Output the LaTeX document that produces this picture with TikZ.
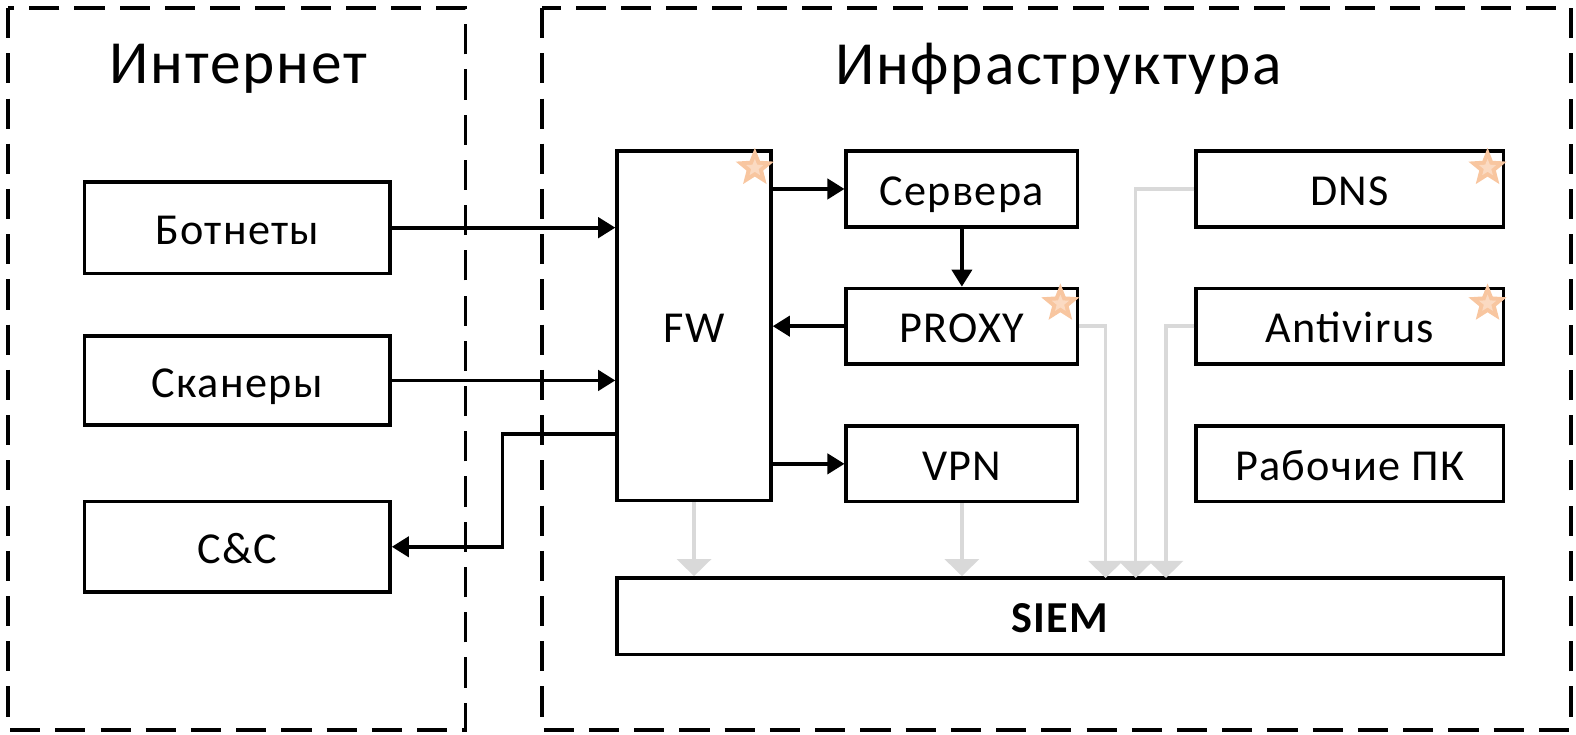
\documentclass[tikz,border=0pt]{standalone}
\usepackage{fontspec}
\setmainfont{Carlito}[LetterSpace=3]
\usetikzlibrary{arrows.meta,shapes.geometric}
\definecolor{lgray}{HTML}{D9D9D9}
\definecolor{peach}{HTML}{F8C6A0}
\definecolor{peachl}{HTML}{FBDAC2}
\begin{document}
\begin{tikzpicture}[x=1pt,y=-1pt,
  box/.style={draw, line width=3.6pt, inner sep=0pt, text height=33pt, text depth=0pt, font=\fontsize{44}{52}\selectfont},
  zone/.style={draw, line width=3.6pt, dash pattern=on 30pt off 15pt},
  title/.style={font=\fontsize{61}{70}\selectfont},
  arr/.style={line width=3.8pt, -{Triangle[length=17pt,width=20pt]}},
  garr/.style={line width=3.4pt, lgray, -{Triangle[length=17pt,width=34pt]}},
  starout/.style={star, star points=5, star point ratio=2.3, fill=peach, minimum size=40pt, inner sep=0pt},
  starin/.style={star, star points=5, star point ratio=2.3, fill=peachl, minimum size=18pt, inner sep=0pt}]
\useasboundingbox (0,0) rectangle (1568,731);
\draw[zone] (8,8) rectangle (463,726);
\draw[zone] (539,8) rectangle (1563,726);
\node[title] (tint) at (237,68) {Интернет};
\node[title] (tinf) at (1053,68) {Инфраструктура};

\node[box, minimum width=304pt, minimum height=91pt] (bot) at (236,226.5) {Ботнеты};
\node[box, minimum width=304pt, minimum height=89pt] (scan) at (236,378.5) {Сканеры};
\node[box, minimum width=304pt, minimum height=90pt] (cc) at (236,544) {C\&C};
\node[box, minimum width=153pt, minimum height=348pt] (fw) at (690.5,324) {FW};
\node[box, minimum width=230pt, minimum height=76pt] (serv) at (957,188) {Сервера};
\node[box, minimum width=230pt, minimum height=75pt] (proxy) at (957,324.5) {PROXY};
\node[box, minimum width=230pt, minimum height=75pt] (vpn) at (957,461.5) {VPN};
\node[box, minimum width=306pt, minimum height=76pt] (dns) at (1343,188) {DNS};
\node[box, minimum width=306pt, minimum height=75pt] (av) at (1343,324.5) {Antivirus};
\node[box, minimum width=306pt, minimum height=75pt] (pc) at (1343,461.5) {Рабочие ПК};
\node[box, minimum width=882pt, minimum height=76pt] (siem) at (1055,613) {\textbf{SIEM}};

\coordinate (fwout) at (614,432);
\draw[arr] (bot.east) -- (bot.east -| fw.west);
\draw[arr] (scan.east) -- (scan.east -| fw.west);
\draw[arr] (fwout) -- (500,432) |- (cc.east);
\draw[arr] (fw.east |- serv.west) -- (serv.west);
\draw[arr] (serv.south) -- (proxy.north);
\draw[arr] (proxy.west) -- (proxy.west -| fw.east);
\draw[arr] (fw.east |- vpn.west) -- (vpn.west);

\draw[garr] (fw.south) -- (fw.south |- siem.north);
\draw[garr] (vpn.south) -- (vpn.south |- siem.north);
\draw[garr] (proxy.east) -- (1100,324.5) -- (1100,575);
\draw[garr] (dns.west) -- (1130,188) -- (1130,575);
\draw[garr] (av.west) -- (1160,324.5) -- (1160,575);

\foreach \n/\p in {s1/{(751,167)}, s2/{(1055,302)}, s3/{(1480,167)}, s4/{(1480,302)}} {
  \node[starout] (\n) at \p {};
  \node[starin] at (\n) {};
}
\end{tikzpicture}
\end{document}
